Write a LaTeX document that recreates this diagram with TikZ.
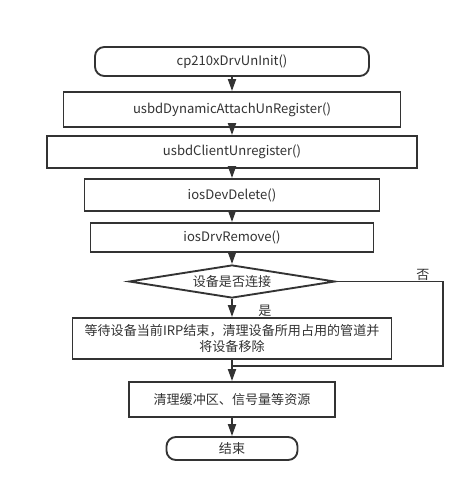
\documentclass[tikz,border=0pt]{standalone}
\usepackage{fontspec}
\setmainfont{Noto Sans CJK SC}
\usepackage{tikz}
\usetikzlibrary{shapes.geometric, arrows.meta}
\definecolor{ink}{HTML}{333333}

\begin{document}
\begin{tikzpicture}[x=0.75pt, y=-0.75pt, font=\fontsize{9.8}{12.5}\selectfont, text=ink, term/.style={draw=ink, rectangle, rounded corners=7pt, line width=1.4pt, fill=white}, proc/.style={draw=ink, rectangle, line width=1.4pt, fill=white}, dec/.style={draw=ink, diamond, aspect=6.2, inner sep=1pt, line width=1.4pt, fill=white}, n/.style={-{Triangle[width=6pt, length=9pt]}, draw=ink, line width=1.4pt}, l/.style={draw=ink, line width=1.4pt}]
            \useasboundingbox (0,0) rectangle (475,491);
            % nodes
            \node[term, minimum width=205.5pt, minimum height=21.75pt] (uninit) at (232,61.5) {cp210xDrvUnInit()};
            \node[proc, minimum width=252.75pt, minimum height=26.25pt] (dynattach) at (232,109.5) {usbdDynamicAttachUnRegister()};
            \node[proc, minimum width=277.5pt, minimum height=24pt] (clientunreg) at (232,152) {usbdClientUnregister()};
            \node[proc, minimum width=221.25pt, minimum height=24pt] (devdelete) at (232,195) {iosDevDelete()};
            \node[proc, minimum width=212.25pt, minimum height=21.75pt] (drvremove) at (232,237.5) {iosDrvRemove()};
            \node[dec, minimum width=154.5pt, minimum height=24.75pt] (connected) at (232,281.5) {设备是否连接};
            \node[proc, minimum width=239.25pt, minimum height=30.75pt, align=center, inner sep=1pt] (waitirp) at (232,338.5) {等待设备当前IRP结束，清理设备所用占用的管道并\\将设备移除};
            \node[proc, minimum width=154.5pt, minimum height=26.25pt] (cleanup) at (232,399.5) {清理缓冲区、信号量等资源};
            \node[term, minimum width=98.25pt, minimum height=17.25pt] (finish) at (232,448.5) {结束};
            \node (yes) at (265,311) {是};
            \node (no) at (423,275) {否};
            \coordinate (corner1) at (443,281.5);
            \coordinate (corner2) at (443,366);
            \coordinate (join) at (232,366);
            % edges
            \draw [n] (uninit) -- (dynattach);
            \draw [n] (dynattach) -- (clientunreg);
            \draw [n] (clientunreg) -- (devdelete);
            \draw [n] (devdelete) -- (drvremove);
            \draw [n] (drvremove) -- (connected);
            \draw [n] (connected) -- (waitirp);
            \draw [n] (waitirp) -- (cleanup);
            \draw [n] (cleanup) -- (finish);
            \draw [l] (connected.east) -- (corner1) -- (corner2) -- (join);
        \end{tikzpicture}
\end{document}
